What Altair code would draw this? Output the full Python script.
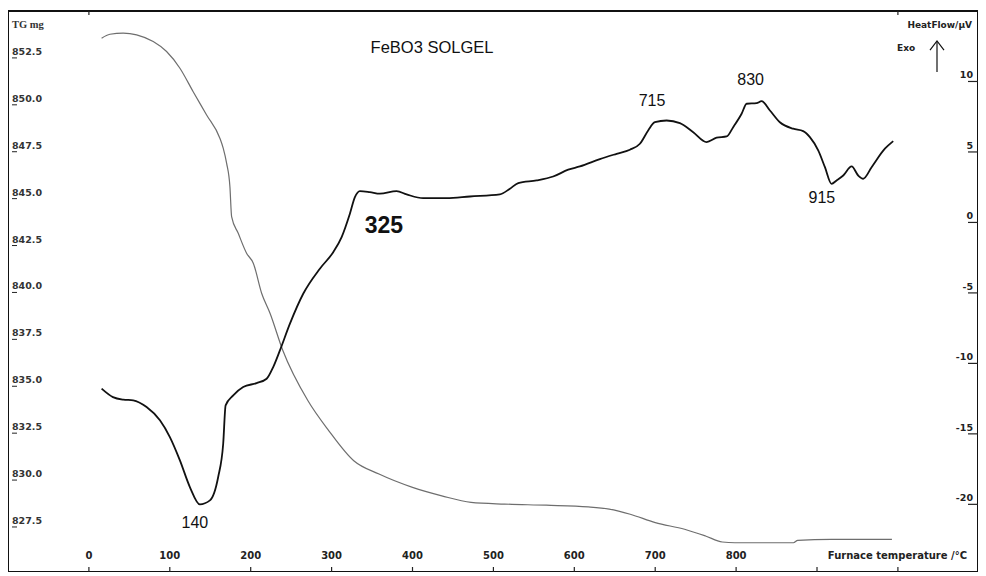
import altair as alt
import pandas as pd

# ---- data ----
tg_temp = [15.7, 26, 42.4, 59, 79.5, 96, 112.5, 128.9, 145.5, 161.9, 166, 170.2, 174.3, 176.4,
           184.6, 194.9, 203.2, 213.5, 224, 239.6, 270.6, 296.4, 327.4, 358.6, 400, 436.2, 472.4,
           513.8, 565.5, 617.3, 643.1, 669.1, 700.1, 736.3, 762.2, 782.9, 798.5, 870.9, 876.1,
           917.6, 992.6]
tg_mass = [853.55, 853.76, 853.82, 853.73, 853.37, 852.84, 851.95, 850.70, 849.46, 848.22, 847.69,
           846.89, 845.64, 844.04, 843.15, 842.09, 841.56, 839.96, 838.88, 836.92, 834.24, 832.64,
           831.03, 830.32, 829.61, 829.16, 828.81, 828.72, 828.66, 828.57, 828.45, 828.18, 827.73,
           827.38, 827.02, 826.70, 826.66, 826.66, 826.79, 826.84, 826.84]

dta_temp = [15.7, 29.7, 42.4, 54.8, 71.3, 87.8, 100.1, 112.5, 124.8, 137.2, 149.6, 159.8, 166, 169,
            178.4, 190.7, 207.3, 219.7, 227.8, 236.1, 248.5, 264.9, 285.5, 302, 312.4, 322.6, 328.8,
            335, 347.3, 359.7, 380.3, 392.7, 413.2, 442.2, 471, 508, 520.4, 530.7, 553.4, 573.9,
            592.5, 606.9, 631.6, 652.3, 668.7, 681.1, 691.3, 699.6, 714.1, 730.5, 747, 763.5, 775.9,
            788.3, 796.4, 806.8, 813, 825.3, 831.5, 841.8, 854.1, 870.6, 882.9, 891.2, 901.5, 909.8,
            918, 924.2, 932.4, 942.8, 950.9, 957.1, 967.5, 983.9, 994.2]
dta_flow = [-11.79, -12.39, -12.57, -12.62, -13.10, -14.04, -15.23, -16.88, -18.77, -20.0, -19.72,
            -18.06, -15.70, -12.98, -12.27, -11.68, -11.40, -11.09, -10.26, -9.08, -7.18, -5.06,
            -3.28, -2.11, -1.04, 0.62, 1.79, 2.22, 2.15, 2.04, 2.22, 1.99, 1.72, 1.72, 1.84, 1.99,
            2.39, 2.79, 2.98, 3.26, 3.74, 3.97, 4.49, 4.87, 5.16, 5.58, 6.52, 7.11, 7.23, 7.04, 6.40,
            5.70, 6.01, 6.10, 6.76, 7.71, 8.42, 8.46, 8.60, 7.94, 7.11, 6.65, 6.48, 6.05, 5.11, 3.92,
            2.74, 2.98, 3.33, 3.97, 3.33, 3.10, 3.92, 5.23, 5.77]

x_ticks = [0, 100, 200, 300, 400, 500, 600, 700, 800, 900, 1000]
x_labels = ["0", "100", "200", "300", "400", "500", "600", "700", "800"]
x_top_ticks = [0, 1000]
tg_ticks = [852.5, 850.0, 847.5, 845.0, 842.5, 840.0, 837.5, 835.0, 832.5, 830.0, 827.5]
dta_ticks = [10, 5, 0, -5, -10, -15, -20]

ann_text = ["140", "715", "830", "915"]
ann_temp = [131, 696, 818, 906]
ann_flow = [-21.3, 8.58, 10.07, 1.70]
big_text = ["325"]
big_temp = [364.6]
big_flow = [-0.28]

XD = [-100, 1099]
TGD = [825.1, 855.0]
DTD = [-24.8, 15.0]

W, H = 970, 561

xs = alt.Scale(domain=XD, nice=False, zero=False)
tgs = alt.Scale(domain=TGD, nice=False, zero=False)
dts = alt.Scale(domain=DTD, nice=False, zero=False)

tg_df = pd.DataFrame({"T": tg_temp, "m": tg_mass})
dta_df = pd.DataFrame({"T": dta_temp, "q": dta_flow})

tg_line = alt.Chart(tg_df).mark_line(color="#6e6e6e", strokeWidth=1.2,
                                     interpolate="monotone").encode(
    x=alt.X("T:Q", scale=xs, axis=None),
    y=alt.Y("m:Q", scale=tgs, axis=None),
    order="T:Q",
)
dta_line = alt.Chart(dta_df).mark_line(color="#111111", strokeWidth=1.8,
                                       interpolate="monotone").encode(
    x=alt.X("T:Q", scale=xs, axis=None),
    y=alt.Y("q:Q", scale=dts, axis=None),
    order="T:Q",
)

lab_font = "DejaVu Sans"

# bottom axis
xt_df = pd.DataFrame({"T": x_ticks})
x_tick_rules = alt.Chart(xt_df).mark_rule(color="#222", strokeWidth=1.2).encode(
    x=alt.X("T:Q", scale=xs, axis=None), y=alt.value(556), y2=alt.value(H))
xl_df = pd.DataFrame({"T": [int(v) for v in x_labels], "lab": x_labels})
x_tick_text = alt.Chart(xl_df).mark_text(font=lab_font, fontWeight="bold", fontSize=10,
                                         color="#222", baseline="middle").encode(
    x=alt.X("T:Q", scale=xs, axis=None), y=alt.value(545), text="lab:N")
xtop_df = pd.DataFrame({"T": x_top_ticks})
x_top_rules = alt.Chart(xtop_df).mark_rule(color="#222", strokeWidth=1.2).encode(
    x=alt.X("T:Q", scale=xs, axis=None), y=alt.value(0), y2=alt.value(4))
x_title = alt.Chart(pd.DataFrame({"t": ["Furnace temperature /°C"]})).mark_text(
    font=lab_font, fontWeight="bold", fontSize=10, color="#222", align="right",
    baseline="middle").encode(x=alt.value(959), y=alt.value(545), text="t:N")

# left axis (TG)
tg_t_df = pd.DataFrame({"m": tg_ticks, "lab": [f"{v:.1f}" for v in tg_ticks]})
tg_tick_rules = alt.Chart(tg_t_df).mark_rule(color="#222", strokeWidth=1).encode(
    y=alt.Y("m:Q", scale=tgs, axis=None), x=alt.value(4), x2=alt.value(9))
tg_tick_text = alt.Chart(tg_t_df).mark_text(font=lab_font, fontWeight="bold", fontSize=9.5,
                                            color="#333", align="left", baseline="middle",
                                            dy=-6).encode(
    y=alt.Y("m:Q", scale=tgs, axis=None), x=alt.value(4), text="lab:N")
tg_title = alt.Chart(pd.DataFrame({"t": ["TG mg"]})).mark_text(
    font="Liberation Serif", fontWeight="bold", fontSize=10.5, color="#333", align="left",
    baseline="middle").encode(x=alt.value(4), y=alt.value(14), text="t:N")

# right axis (DTA)
dt_t_df = pd.DataFrame({"q": dta_ticks, "lab": [str(v) for v in dta_ticks]})
dt_tick_rules = alt.Chart(dt_t_df).mark_rule(color="#222", strokeWidth=1.2).encode(
    y=alt.Y("q:Q", scale=dts, axis=None), x=alt.value(960), x2=alt.value(W))
dt_tick_text = alt.Chart(dt_t_df).mark_text(font=lab_font, fontWeight="bold", fontSize=9.5,
                                            color="#222", align="right", baseline="middle",
                                            dy=-6).encode(
    y=alt.Y("q:Q", scale=dts, axis=None), x=alt.value(965), text="lab:N")
dt_title = alt.Chart(pd.DataFrame({"t": ["HeatFlow/µV"]})).mark_text(
    font=lab_font, fontWeight="bold", fontSize=9, color="#222", align="right",
    baseline="middle").encode(x=alt.value(964), y=alt.value(14), text="t:N")
exo = alt.Chart(pd.DataFrame({"t": ["Exo"]})).mark_text(
    font=lab_font, fontWeight="bold", fontSize=9, color="#222", align="left",
    baseline="middle").encode(x=alt.value(889), y=alt.value(37), text="t:N")
arrow_stem = alt.Chart(pd.DataFrame({"a": [0]})).mark_rule(color="#111", strokeWidth=1.2).encode(
    x=alt.value(929), y=alt.value(31), y2=alt.value(61))
arrow_head = alt.Chart(pd.DataFrame({"a": [0]})).mark_point(
    shape="M-1,0.65L0,-0.65L1,0.65", filled=False, color="#111", strokeWidth=1.2,
    size=196, opacity=1).encode(x=alt.value(929), y=alt.value(34.5))

# title and annotations
title = alt.Chart(pd.DataFrame({"t": ["FeBO3 SOLGEL"]})).mark_text(
    font="Liberation Sans", fontSize=16.5, color="#111", align="center",
    baseline="middle").encode(x=alt.value(424), y=alt.value(37), text="t:N")

ann_df = pd.DataFrame({"T": ann_temp, "q": ann_flow, "lab": ann_text})
ann = alt.Chart(ann_df).mark_text(font="Liberation Sans", fontSize=16, color="#111",
                                  baseline="middle").encode(
    x=alt.X("T:Q", scale=xs, axis=None), y=alt.Y("q:Q", scale=dts, axis=None), text="lab:N")
big_df = pd.DataFrame({"T": big_temp, "q": big_flow, "lab": big_text})
big = alt.Chart(big_df).mark_text(font="Liberation Sans", fontSize=23, fontWeight="bold",
                                  color="#111", baseline="middle").encode(
    x=alt.X("T:Q", scale=xs, axis=None), y=alt.Y("q:Q", scale=dts, axis=None), text="lab:N")

chart = alt.layer(
    tg_line, dta_line,
    x_tick_rules, x_tick_text, x_top_rules, x_title,
    tg_tick_rules, tg_tick_text, tg_title,
    dt_tick_rules, dt_tick_text, dt_title, exo, arrow_stem, arrow_head,
    title, ann, big,
).resolve_scale(y="independent", x="independent").properties(
    width=W, height=H,
    autosize=alt.AutoSizeParams(type="none"),
    padding={"left": 0, "top": 3, "right": 0, "bottom": 0},
    background="white",
).configure_view(stroke="#111", strokeWidth=2)

chart.save("out.html", embed_options={"renderer": "svg", "actions": False})
